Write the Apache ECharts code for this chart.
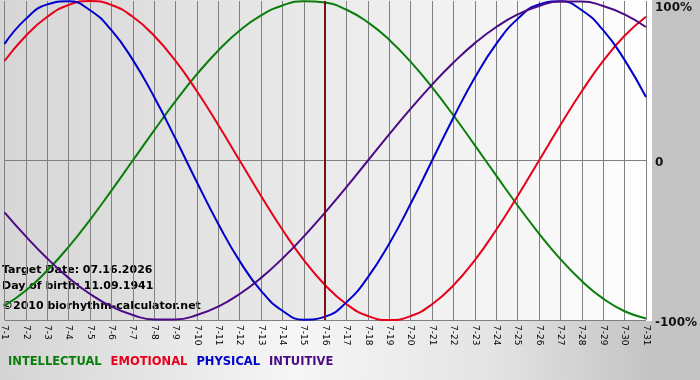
<!DOCTYPE html>
<html>
<head>
<meta charset="utf-8">
<script src="https://cdn.jsdelivr.net/npm/echarts@6/dist/echarts.min.js"></script>
<style>
  html, body { margin: 0; padding: 0; }
  #chart {
    width: 700px;
    height: 380px;
    background: linear-gradient(to right, #d4d4d4 0%, #f6f6f6 42%, #e4e4e4 70%, #c4c4c4 93%, #c3c3c3 100%);
  }
</style>
</head>
<body>
<div id="chart"></div>
<script>
// days of July 2026
const days = ['7-1', '7-2', '7-3', '7-4', '7-5', '7-6', '7-7', '7-8', '7-9', '7-10',
  '7-11', '7-12', '7-13', '7-14', '7-15', '7-16', '7-17', '7-18', '7-19', '7-20',
  '7-21', '7-22', '7-23', '7-24', '7-25', '7-26', '7-27', '7-28', '7-29', '7-30', '7-31']

// cycle values, -1 .. 1
const intellectual = [-0.91, -0.815, -0.69, -0.541, -0.372, -0.189, 0, 0.189, 0.372, 0.541,
  0.69, 0.815, 0.91, 0.972, 0.999, 0.99, 0.945, 0.866, 0.756, 0.618,
  0.458, 0.282, 0.095, -0.095, -0.282, -0.458, -0.618, -0.756, -0.866, -0.945, -0.99]
const emotional = [0.624, 0.782, 0.901, 0.975, 1, 0.975, 0.901, 0.782, 0.624, 0.434,
  0.223, 0, -0.223, -0.434, -0.624, -0.782, -0.901, -0.975, -1, -0.975,
  -0.901, -0.782, -0.624, -0.434, -0.223, 0, 0.223, 0.434, 0.624, 0.782, 0.901]
const physical = [0.731, 0.888, 0.979, 0.998, 0.942, 0.817, 0.631, 0.398, 0.136, -0.136,
  -0.398, -0.631, -0.817, -0.942, -0.998, -0.979, -0.888, -0.731, -0.52, -0.27,
  0, 0.27, 0.52, 0.731, 0.888, 0.979, 0.998, 0.942, 0.817, 0.631, 0.398]
const intuitive = [-0.325, -0.476, -0.614, -0.736, -0.837, -0.916, -0.969, -0.997, -0.997, -0.969,
  -0.916, -0.837, -0.736, -0.614, -0.476, -0.325, -0.165, 0, 0.165, 0.325,
  0.476, 0.614, 0.736, 0.837, 0.916, 0.969, 0.997, 0.997, 0.969, 0.916, 0.837]

const targetDay = '7-16'
const yLabels = { '-1': '{base|-100%}', '0': '{base|0}', '1': '{top|100%}' }

const colors = {
  INTELLECTUAL: '#0b7d0b',
  EMOTIONAL: '#e8001a',
  PHYSICAL: '#0000cc',
  INTUITIVE: '#4b0a86',
}

const boldFont = 'DejaVu Sans'

function line(name, data, extra) {
  return Object.assign({
    name,
    type: 'line',
    data,
    smooth: true,
    symbol: 'none',
    lineStyle: { width: 2, color: colors[name] },
    itemStyle: { color: colors[name] },
  }, extra || {})
}

const chart = echarts.init(document.getElementById('chart'))
chart.setOption({
  animation: false,
  grid: { left: 2, right: 50, top: 1, bottom: 60 },
  graphic: [
    {
      type: 'rect',
      z: -10,
      shape: { x: 0, y: 0, width: 652, height: 321 },
      style: {
        fill: new echarts.graphic.LinearGradient(0, 0, 1, 0, [
          { offset: 0, color: '#d6d6d6' },
          { offset: 1, color: '#fefefe' },
        ]),
      },
    },
    {
      type: 'group',
      left: 2,
      top: 265,
      z: 100,
      children: [
        { type: 'text', x: 0, y: 0, style: { text: 'Target Date: 07.16.2026', font: 'bold 11px "DejaVu Sans"', fill: '#000' } },
        { type: 'text', x: 0, y: 16, style: { text: 'Day of birth: 11.09.1941', font: 'bold 11px "DejaVu Sans"', fill: '#000' } },
        { type: 'text', x: 0, y: 36, style: { text: '©2010 biorhythm-calculator.net', font: 'bold 11px "DejaVu Sans"', fill: '#000' } },
      ],
    },
  ],
  legend: {
    left: 3,
    top: 355,
    icon: 'none',
    itemWidth: 0,
    itemGap: 4,
    padding: 0,
    textStyle: { fontFamily: boldFont, fontWeight: 'bold', fontSize: 11.5, padding: 0 },
    data: Object.keys(colors).map((n) => ({ name: n, textStyle: { color: colors[n] } })),
    selectedMode: false,
  },
  xAxis: {
    type: 'category',
    data: days,
    boundaryGap: false,
    axisLine: { lineStyle: { color: '#808080', width: 1 } },
    axisTick: { show: true, length: 4, interval: 0, lineStyle: { color: '#808080' } },
    splitLine: { show: true, interval: 0, lineStyle: { color: '#808080', width: 1 } },
    axisLabel: {
      interval: 0,
      rotate: -90,
      margin: 5,
      fontFamily: 'DejaVu Sans',
      fontSize: 9,
      color: '#000',
    },
  },
  yAxis: {
    type: 'value',
    position: 'right',
    min: -1,
    max: 1,
    interval: 1,
    axisLine: { show: false },
    axisTick: { show: false },
    splitLine: { show: true, lineStyle: { color: ['#808080', '#808080', 'rgba(0,0,0,0)'], width: 1 } },
    axisLabel: {
      margin: 9,
      fontFamily: boldFont,
      fontWeight: 'bold',
      fontSize: 12,
      color: '#111',
      formatter: (v) => yLabels[String(v)],
      rich: {
        base: { fontFamily: boldFont, fontWeight: 'bold', fontSize: 12, color: '#111', padding: [5, 0, 0, 0] },
        top: { fontFamily: boldFont, fontWeight: 'bold', fontSize: 12, color: '#111', padding: [13, 0, 0, 0] },
      },
    },
  },
  series: [
    line('INTELLECTUAL', intellectual),
    line('EMOTIONAL', emotional),
    line('PHYSICAL', physical),
    line('INTUITIVE', intuitive, {
      markLine: {
        silent: true,
        symbol: 'none',
        label: { show: false },
        lineStyle: { color: '#7a1010', width: 2, type: 'solid' },
        data: [{ xAxis: targetDay }],
      },
    }),
  ],
})
</script>
</body>
</html>
